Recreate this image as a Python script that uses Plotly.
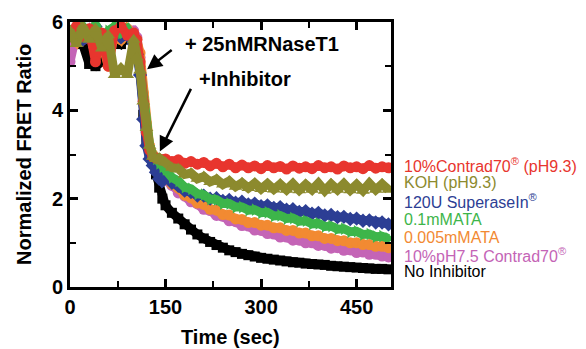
import plotly.graph_objects as go

time_s = [0, 10, 20, 30, 40, 50, 60, 70, 80, 90, 100,
          105, 110, 115, 120, 125, 130, 135, 140, 145,
          150, 160, 170, 180, 190, 200, 210, 220, 230, 240,
          250, 260, 270, 280, 290, 300, 310, 320, 330, 340,
          350, 360, 370, 380, 390, 400, 410, 420, 430, 440,
          450, 460, 470, 480, 490, 500]

no_inhibitor = [5.60, 5.70, 5.50, 5.05, 5.00, 5.10, 5.45, 5.60, 5.50, 5.65, 5.55,
                5.40, 4.90, 3.90, 3.30, 3.00, 2.85, 2.55, 2.25, 2.00,
                1.85, 1.68, 1.55, 1.42, 1.30, 1.19, 1.10, 1.02, 0.95, 0.89,
                0.83, 0.79, 0.75, 0.72, 0.69, 0.66, 0.64, 0.62, 0.60, 0.58,
                0.56, 0.55, 0.53, 0.52, 0.51, 0.50, 0.48, 0.47, 0.46, 0.45,
                0.44, 0.43, 0.42, 0.41, 0.41, 0.40]

contrad_ph75 = [5.10, 5.75, 5.60, 5.80, 5.50, 5.70, 5.60, 5.85, 5.70, 5.75, 5.80,
                5.65, 5.20, 4.20, 3.50, 3.10, 2.90, 2.75, 2.62, 2.50,
                2.42, 2.30, 2.13, 2.06, 1.93, 1.88, 1.76, 1.73, 1.62, 1.60,
                1.50, 1.48, 1.39, 1.38, 1.29, 1.28, 1.21, 1.20, 1.13, 1.13,
                1.06, 1.06, 1.00, 1.00, 0.94, 0.94, 0.88, 0.89, 0.83, 0.84,
                0.78, 0.79, 0.74, 0.74, 0.70, 0.68]

ata_0005 = [5.70, 5.55, 5.85, 5.65, 5.80, 5.55, 5.00, 5.75, 5.60, 5.85, 5.70,
            5.60, 5.30, 4.40, 3.70, 3.20, 3.00, 2.85, 2.70, 2.60,
            2.52, 2.33, 2.24, 2.08, 2.02, 1.90, 1.87, 1.76, 1.74, 1.64,
            1.63, 1.54, 1.53, 1.46, 1.46, 1.40, 1.40, 1.34, 1.34, 1.28,
            1.28, 1.22, 1.22, 1.16, 1.16, 1.10, 1.10, 1.05, 1.05, 1.00,
            1.00, 0.96, 0.96, 0.92, 0.92, 0.89]

superasein = [5.70, 5.85, 5.60, 5.75, 5.90, 5.60, 5.70, 5.80, 5.65, 5.70, 5.50,
              5.27, 4.80, 3.80, 3.20, 2.90, 2.75, 2.60, 2.45, 2.40,
              2.48, 2.36, 2.29, 2.18, 2.15, 2.07, 2.07, 2.00, 2.01, 1.95,
              1.97, 1.91, 1.93, 1.87, 1.89, 1.83, 1.85, 1.79, 1.81, 1.75,
              1.76, 1.70, 1.72, 1.66, 1.68, 1.62, 1.63, 1.58, 1.59, 1.54,
              1.55, 1.50, 1.51, 1.46, 1.46, 1.42]

ata_01 = [5.85, 5.60, 5.90, 5.70, 5.95, 5.65, 5.80, 5.90, 5.75, 5.85, 5.60,
          5.45, 5.00, 4.30, 3.60, 3.20, 3.00, 2.90, 2.80, 2.72,
          2.66, 2.48, 2.40, 2.26, 2.22, 2.11, 2.09, 1.99, 1.98, 1.89,
          1.89, 1.81, 1.81, 1.74, 1.75, 1.68, 1.69, 1.61, 1.62, 1.55,
          1.56, 1.49, 1.50, 1.43, 1.44, 1.37, 1.38, 1.31, 1.32, 1.25,
          1.26, 1.19, 1.20, 1.14, 1.15, 1.10]

contrad_ph93 = [5.75, 5.90, 5.70, 5.85, 5.10, 5.75, 5.00, 5.80, 5.90, 5.70, 5.75,
                5.60, 5.10, 4.20, 3.50, 3.10, 2.95, 2.92, 2.90, 2.88,
                2.90, 2.84, 2.88, 2.80, 2.84, 2.78, 2.82, 2.74, 2.80, 2.72,
                2.78, 2.70, 2.76, 2.70, 2.74, 2.68, 2.75, 2.70, 2.73, 2.67,
                2.74, 2.69, 2.72, 2.68, 2.75, 2.70, 2.72, 2.67, 2.74, 2.70,
                2.72, 2.68, 2.75, 2.69, 2.72, 2.70]

koh = [5.80, 5.50, 5.90, 5.60, 5.85, 5.40, 5.70, 4.80, 4.95, 4.80, 5.60,
       5.20, 4.90, 4.20, 3.60, 3.20, 2.95, 2.90, 2.92, 2.85,
       2.82, 2.70, 2.68, 2.55, 2.58, 2.45, 2.50, 2.38, 2.44, 2.32,
       2.40, 2.27, 2.36, 2.24, 2.35, 2.22, 2.34, 2.21, 2.33, 2.20,
       2.34, 2.19, 2.32, 2.20, 2.35, 2.18, 2.33, 2.20, 2.34, 2.19,
       2.32, 2.18, 2.35, 2.20, 2.33, 2.20]

labels = ["10%Contrad70<sup>®</sup> (pH9.3)", "KOH (pH9.3)", "120U SuperaseIn<sup>®</sup>",
          "0.1mMATA", "0.005mMATA", "10%pH7.5 Contrad70<sup>®</sup>", "No Inhibitor"]
colors = ["#e8352e", "#8c8a2e", "#2c3e94", "#3db54a", "#f28a32", "#c464b6", "#000000"]

# drawing order (bottom -> top)
series = [
    (no_inhibitor, "#000000", "square", 10),
    (contrad_ph75, "#c464b6", "circle", 11),
    (ata_0005, "#f28a32", "circle", 11),
    (superasein, "#2c3e94", "diamond", 11),
    (ata_01, "#3db54a", "triangle-right", 11),
    (contrad_ph93, "#e8352e", "circle", 11),
    (koh, "#8c8a2e", "triangle-up", 12),
]

fig = go.Figure()
for ys, col, sym, sz in series:
    fig.add_trace(go.Scatter(
        x=time_s, y=ys, mode="lines+markers",
        line=dict(color=col, width=9),
        marker=dict(color=col, symbol=sym, size=sz),
        showlegend=False, hoverinfo="skip"))

bold = dict(family="Arial, Liberation Sans", size=20, color="black", weight="bold")

axis_common = dict(
    showline=True, linewidth=3, linecolor="black", mirror="ticks",
    ticks="inside", ticklen=8, tickwidth=3, tickcolor="black",
    showgrid=False, zeroline=False, tickfont=bold,
)
fig.update_xaxes(range=[0, 504], tick0=0, dtick=150,
                 minor=dict(ticks="inside", dtick=75, ticklen=6, tickwidth=2, tickcolor="black"),
                 **axis_common)
fig.update_yaxes(range=[0, 6], tick0=0, dtick=2,
                 minor=dict(ticks="inside", dtick=1, ticklen=6, tickwidth=2, tickcolor="black"),
                 **axis_common)

annotations = []
# arrows
annotations.append(dict(x=121, y=4.93, ax=162, ay=5.39, xref="x", yref="y", axref="x", ayref="y",
                        showarrow=True, arrowhead=2, arrowsize=1.2, arrowwidth=2.5, arrowcolor="black", text=""))
annotations.append(dict(x=141, y=3.07, ax=191, ay=4.52, xref="x", yref="y", axref="x", ayref="y",
                        showarrow=True, arrowhead=2, arrowsize=1.2, arrowwidth=2.5, arrowcolor="black", text=""))
annotations.append(dict(x=177, y=5.5, xref="x", yref="y", text="+ 25nMRNaseT1", showarrow=False,
                        xanchor="left", yanchor="middle", font=bold))
annotations.append(dict(x=200, y=4.7, xref="x", yref="y", text="+Inhibitor", showarrow=False,
                        xanchor="left", yanchor="middle", font=bold))

# legend text
leg_y = [0.460, 0.396, 0.325, 0.253, 0.185, 0.121, 0.057]
for lab, col, yy in zip(labels, colors, leg_y):
    annotations.append(dict(x=1.034, y=yy, xref="paper", yref="paper", text=lab, showarrow=False,
                            xanchor="left", yanchor="middle",
                            font=dict(family="Arial, Liberation Sans", size=16, color=col)))

# axis titles
annotations.append(dict(x=0.5, y=-0.19, xref="paper", yref="paper", text="Time (sec)", showarrow=False,
                        xanchor="center", yanchor="middle", font=bold))
annotations.append(dict(x=-0.145, y=0.5, xref="paper", yref="paper", text="Normalized FRET Ratio",
                        showarrow=False, textangle=-90, xanchor="center", yanchor="middle", font=bold))

fig.update_layout(
    width=586, height=349,
    margin=dict(l=70, r=195, t=22, b=62),
    plot_bgcolor="white", paper_bgcolor="white",
    annotations=annotations,
)

fig.write_html("out.html")
